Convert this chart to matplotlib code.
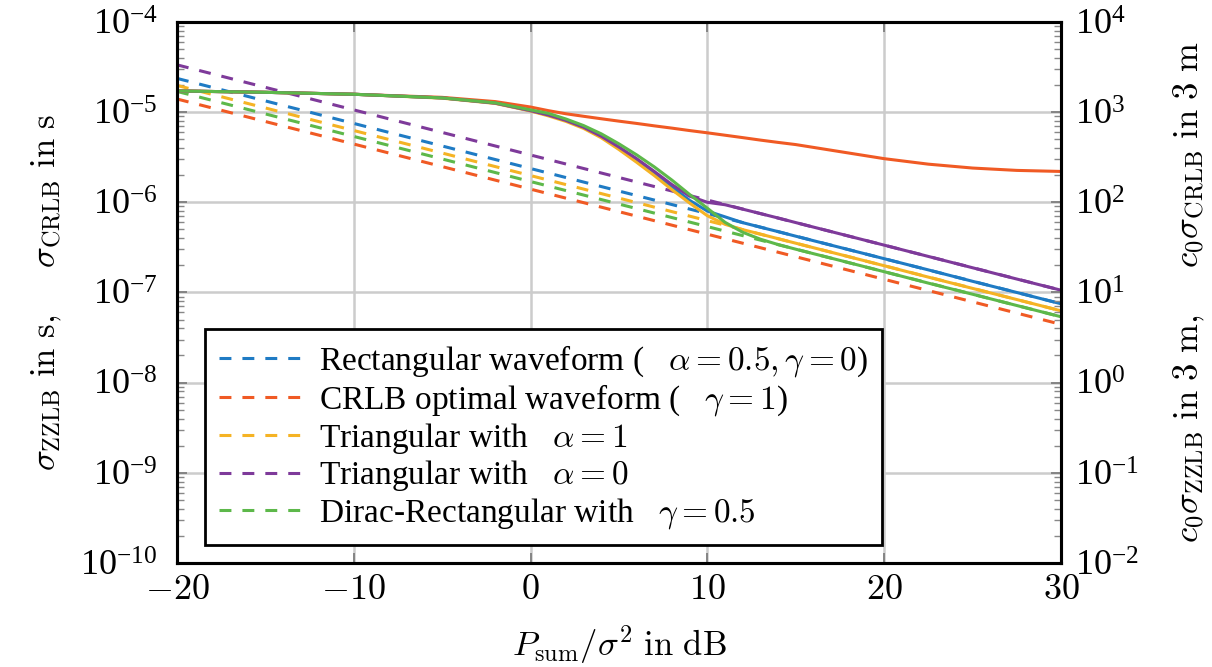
import numpy as np
import matplotlib
matplotlib.use("Agg")
from matplotlib import pyplot as plt
from matplotlib.ticker import LogLocator, NullFormatter

plt.rcParams['mathtext.fontset'] = 'cm'
plt.rcParams['font.family'] = ['Liberation Serif', 'DejaVu Serif']

# colours of the five waveforms
c_rect = '#1f7bc4'
c_opt = '#f05a24'
c_tri1 = '#f5b324'
c_tri0 = '#7e3a9a'
c_dirac = '#5db84a'

# CRLB (dashed), SNR in dB
snr_crlb = [-20, -10, 0, 10, 20, 30]
crlb_rect = [2.37e-5, 7.5e-6, 2.37e-6, 7.5e-7, 2.37e-7, 7.5e-8]
crlb_opt = [1.4e-5, 4.43e-6, 1.4e-6, 4.43e-7, 1.4e-7, 4.43e-8]
crlb_tri1 = [1.98e-5, 6.26e-6, 1.98e-6, 6.26e-7, 1.98e-7, 6.26e-8]
crlb_tri0 = [3.35e-5, 1.06e-5, 3.35e-6, 1.06e-6, 3.35e-7, 1.06e-7]
crlb_dirac = [1.7e-5, 5.38e-6, 1.7e-6, 5.38e-7, 1.7e-7, 5.38e-8]

# ZZLB (solid)
snr_zz = [-20, -15, -10, -5, -2, 0, 1, 2, 3, 4, 5, 6, 7, 8, 9, 10,
          11, 12, 13, 14, 15, 17.5, 20, 22.5, 25, 27.5, 30]
zz_rect = [1.72e-5, 1.66e-5, 1.58e-5, 1.44e-5, 1.26e-5, 1.04e-5, 9.3e-6, 8.1e-6,
           6.8e-6, 5.4e-6, 4.05e-6, 2.98e-6, 2.12e-6, 1.48e-6, 1.05e-6, 8.0e-7,
           6.9e-7, 5.95e-7, 5.3e-7, 4.73e-7, 4.21e-7, 3.16e-7, 2.37e-7, 1.78e-7,
           1.33e-7, 1.0e-7, 7.5e-8]
zz_opt = [1.72e-5, 1.66e-5, 1.58e-5, 1.46e-5, 1.31e-5, 1.14e-5, 1.04e-5, 9.6e-6,
          9.0e-6, 8.45e-6, 7.95e-6, 7.5e-6, 7.05e-6, 6.65e-6, 6.25e-6, 5.9e-6,
          5.55e-6, 5.22e-6, 4.9e-6, 4.62e-6, 4.37e-6, 3.65e-6, 3.05e-6, 2.65e-6,
          2.4e-6, 2.26e-6, 2.2e-6]
zz_tri1 = [1.72e-5, 1.66e-5, 1.58e-5, 1.43e-5, 1.25e-5, 1.03e-5, 9.1e-6, 7.9e-6,
           6.6e-6, 5.2e-6, 3.85e-6, 2.78e-6, 1.98e-6, 1.38e-6, 9.8e-7, 7.1e-7,
           5.7e-7, 4.98e-7, 4.44e-7, 3.95e-7, 3.52e-7, 2.64e-7, 1.98e-7, 1.48e-7,
           1.11e-7, 8.35e-8, 6.26e-8]
zz_tri0 = [1.72e-5, 1.66e-5, 1.58e-5, 1.44e-5, 1.26e-5, 1.04e-5, 9.3e-6, 8.1e-6,
           6.8e-6, 5.4e-6, 4.1e-6, 3.05e-6, 2.2e-6, 1.57e-6, 1.17e-6, 1.0e-6,
           9.4e-7, 8.4e-7, 7.5e-7, 6.7e-7, 5.96e-7, 4.47e-7, 3.35e-7, 2.51e-7,
           1.88e-7, 1.41e-7, 1.06e-7]
zz_dirac = [1.72e-5, 1.66e-5, 1.58e-5, 1.44e-5, 1.27e-5, 1.06e-5, 9.7e-6, 8.4e-6,
            7.1e-6, 5.75e-6, 4.45e-6, 3.36e-6, 2.47e-6, 1.76e-6, 1.22e-6, 8.6e-7,
            6.0e-7, 4.65e-7, 3.9e-7, 3.4e-7, 3.02e-7, 2.27e-7, 1.7e-7, 1.27e-7,
            9.56e-8, 7.17e-8, 5.38e-8]

labels = [r'Rectangular waveform (   $\alpha = 0.5, \gamma = 0$)',
          r'CRLB optimal waveform (   $\gamma = 1$)',
          r'Triangular with   $\alpha = 1$',
          r'Triangular with   $\alpha = 0$',
          r'Dirac-Rectangular with   $\gamma = 0.5$']

# tick positions
xticks = [-20, -10, 0, 10, 20, 30]
yticks_left = [1e-10, 1e-9, 1e-8, 1e-7, 1e-6, 1e-5, 1e-4]
yticks_right = [1e-2, 1e-1, 1e0, 1e1, 1e2, 1e3, 1e4]

fig = plt.figure(figsize=(12.12, 6.67), dpi=100)
ax = fig.add_axes([0.146, 0.156, 0.7294, 0.811])

crlbs = [crlb_rect, crlb_opt, crlb_tri1, crlb_tri0, crlb_dirac]
zzs = [zz_rect, zz_opt, zz_tri1, zz_tri0, zz_dirac]
cols = [c_rect, c_opt, c_tri1, c_tri0, c_dirac]

for cr, col, lab in zip(crlbs, cols, labels):
    ax.plot(snr_crlb, cr, '--', color=col, lw=2.2, dashes=(3.9, 3.6), label=lab)
for zz, col in zip(zzs, cols):
    ax.plot(snr_zz, zz, '-', color=col, lw=2.2)

ax.set_yscale('log')
ax.set_xlim(-20, 30)
ax.set_ylim(1e-10, 1e-4)
ax.set_xticks(xticks)
ax.set_xticklabels([r'$%d$' % v if v >= 0 else r'$-%d$' % -v for v in xticks])
ax.set_yticks(yticks_left)
ax.yaxis.set_minor_locator(LogLocator(base=10, subs=np.arange(2, 10), numticks=100))
ax.yaxis.set_minor_formatter(NullFormatter())
ax.set_ylim(1e-10, 1e-4)
ax.grid(True, which='major', color='#cccccc', lw=1.8)
ax.set_axisbelow(True)
ax.tick_params(which='both', direction='in', labelsize=26)
ax.tick_params(which='major', length=7, width=1.2, color='#777777', top=True)
ax.tick_params(which='minor', length=5, width=1.0, color='#888888')
ax.tick_params(axis='x', pad=8)
ax.tick_params(axis='y', pad=14)
for sp in ax.spines.values():
    sp.set_linewidth(2.2)

ax.set_xlabel(r'$P_{\mathrm{sum}}/\sigma^2\ \mathrm{in\ dB}$', fontsize=25, labelpad=12)
ax.set_ylabel(r'$\sigma_{\mathrm{ZZLB}}\ \mathrm{in\ s},\quad\ \sigma_{\mathrm{CRLB}}\ \mathrm{in\ s}$',
              fontsize=25, labelpad=12)

ax2 = ax.twinx()
ax2.set_yscale('log')
ax2.set_yticks(yticks_right)
ax2.yaxis.set_minor_locator(LogLocator(base=10, subs=np.arange(2, 10), numticks=100))
ax2.yaxis.set_minor_formatter(NullFormatter())
ax2.set_ylim(1e-2, 1e4)
ax2.tick_params(which='both', direction='in', labelsize=26, pad=10)
ax2.tick_params(which='major', length=7, width=1.2, color='#777777')
ax2.tick_params(which='minor', length=5, width=1.0, color='#888888')
for sp in ax2.spines.values():
    sp.set_linewidth(2.2)
ax2.set_ylabel(r'$c_0\sigma_{\mathrm{ZZLB}}\ \mathrm{in\ 3\ m},\quad\ c_0\sigma_{\mathrm{CRLB}}\ \mathrm{in\ 3\ m}$',
               fontsize=25, rotation=90, labelpad=24)

leg = ax.legend(loc='lower left', bbox_to_anchor=(0.032, 0.033), fontsize=24,
                frameon=True, fancybox=False, handlelength=2.6, labelspacing=0.08,
                borderpad=0.42, handletextpad=0.4, borderaxespad=0)
leg.get_frame().set_edgecolor('black')
leg.get_frame().set_linewidth(2.0)
leg.get_frame().set_alpha(1)

fig.savefig('out.png', dpi=100)
